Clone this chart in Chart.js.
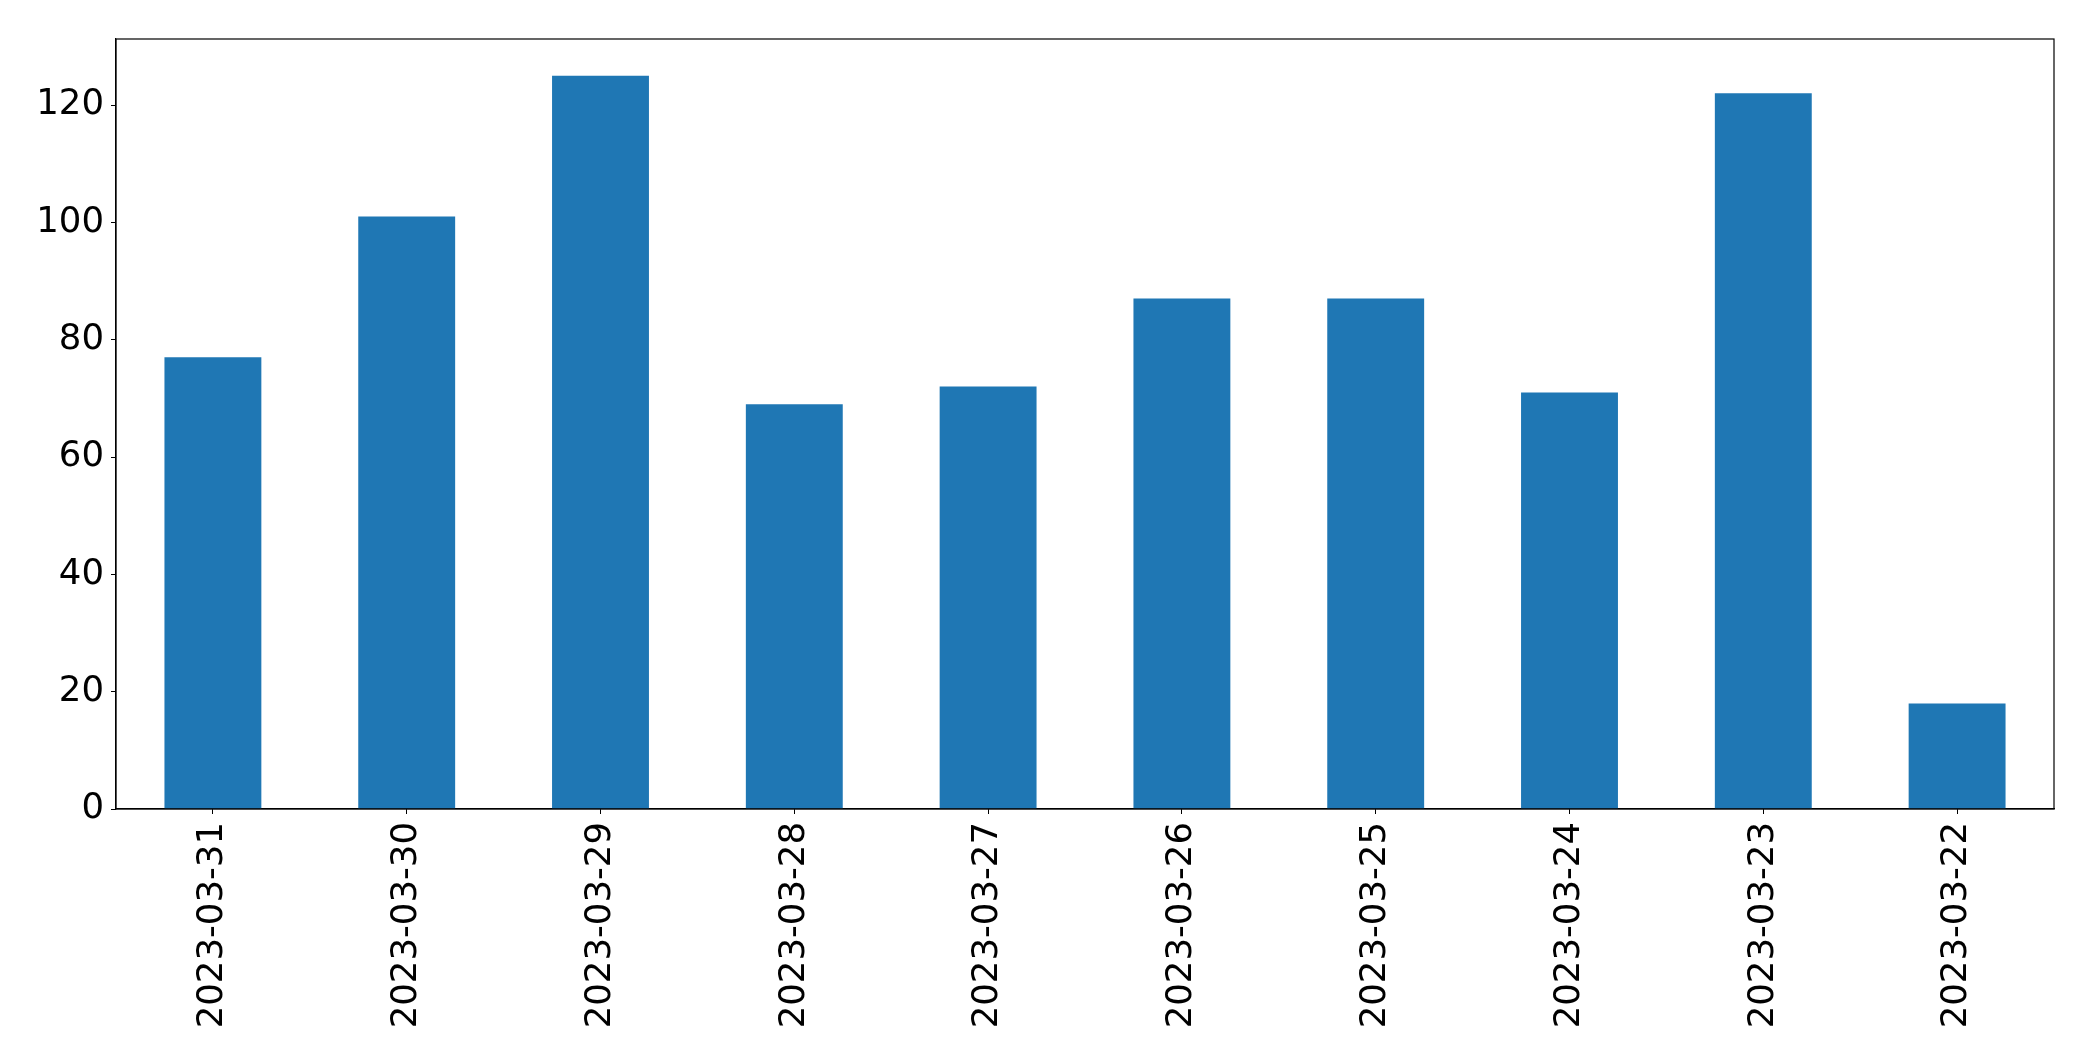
<!DOCTYPE html>
<html>
<head>
<meta charset="utf-8">
<script src="https://cdn.jsdelivr.net/npm/chart.js@4/dist/chart.umd.min.js"></script>
<style>
  html, body { margin: 0; padding: 0; background: #fff; }
  #wrap { width: 2093px; height: 1061px; }
</style>
</head>
<body>
<div id="wrap"><canvas id="chart"></canvas></div>
<script>
// data
const dates = ['2023-03-31', '2023-03-30', '2023-03-29', '2023-03-28', '2023-03-27',
  '2023-03-26', '2023-03-25', '2023-03-24', '2023-03-23', '2023-03-22'];
const counts = [77, 101, 125, 69, 72, 87, 87, 71, 122, 18];
const yTicks = [0, 20, 40, 60, 80, 100, 120];

const font = { family: '"DejaVu Sans", sans-serif', size: 35.5 };

// box around the plot area (top + right sides)
const frame = {
  id: 'frame',
  afterDraw(chart) {
    const { ctx, chartArea: a } = chart;
    ctx.save();
    ctx.strokeStyle = '#000';
    ctx.lineWidth = 1.2;
    ctx.strokeRect(a.left, a.top, a.right - a.left, a.bottom - a.top);
    ctx.restore();
  },
};

new Chart(document.querySelector('#chart'), {
  type: 'bar',
  data: {
    labels: dates,
    datasets: [{
      data: counts,
      backgroundColor: '#1f77b4',
      barPercentage: 0.5,
      categoryPercentage: 1,
    }],
  },
  options: {
    responsive: true,
    maintainAspectRatio: false,
    animation: false,
    devicePixelRatio: 1,
    layout: { padding: { top: 39, right: 39, left: 0, bottom: 0 } },
    plugins: { legend: { display: false }, tooltip: { enabled: false } },
    scales: {
      x: {
        offset: true,
        grid: { offset: false, drawOnChartArea: false, tickLength: 5, tickColor: '#000', color: '#000' },
        border: { color: '#000', width: 1.2 },
        ticks: { color: '#000', font, minRotation: 90, maxRotation: 90, padding: 8, autoSkip: false },
        afterFit(s) { s.height = 1061 - 809; },
      },
      y: {
        min: 0,
        max: 131.25,
        grid: { drawOnChartArea: false, tickLength: 5, tickColor: '#000', color: '#000' },
        border: { color: '#000', width: 1.2 },
        ticks: { color: '#000', font, stepSize: 20, includeBounds: false, padding: 7 },
        afterBuildTicks(s) { s.ticks = yTicks.map((v) => ({ value: v })); },
        afterFit(s) { s.width = 116; },
      },
    },
  },
  plugins: [frame],
});
</script>
</body>
</html>
